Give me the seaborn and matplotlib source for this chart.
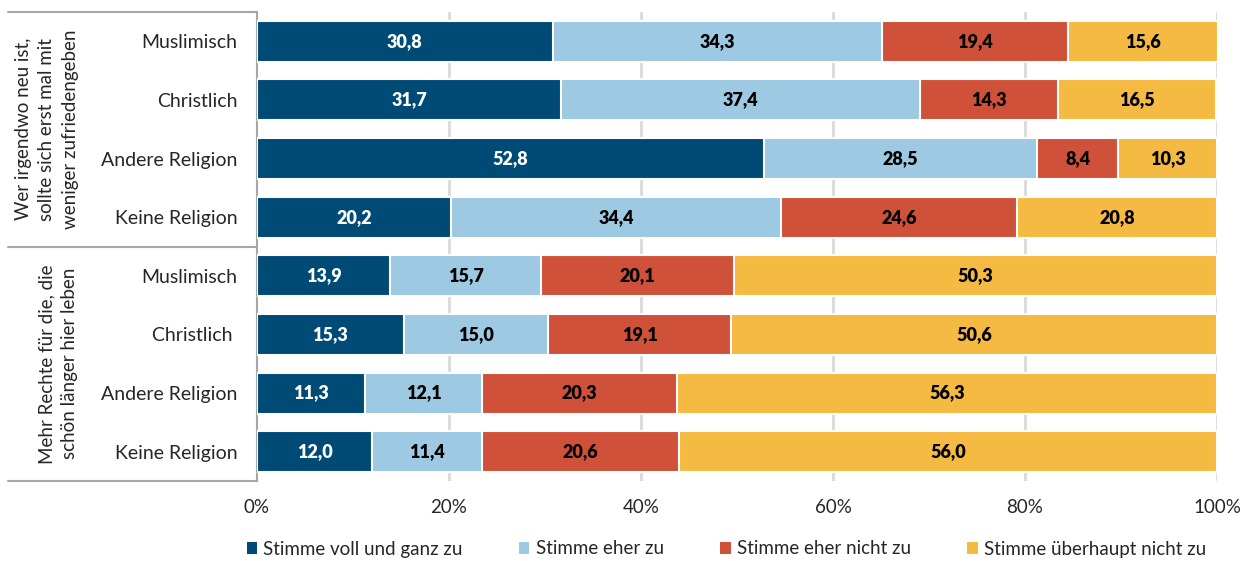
import matplotlib
matplotlib.use("Agg")
import matplotlib.pyplot as plt
from matplotlib.patches import Patch
import seaborn as sns
import pandas as pd
import numpy as np

categories = ["Muslimisch", "Christlich", "Andere Religion", "Keine Religion",
              "Muslimisch", "Christlich ", "Andere Religion", "Keine Religion"]
groups = ["Wer irgendwo neu ist,\nsollte sich erst mal mit\nweniger zufriedengeben",
          "Mehr Rechte für die, die\nschön länger hier leben"]
series_names = ["Stimme voll und ganz zu", "Stimme eher zu",
                "Stimme eher nicht zu", "Stimme überhaupt nicht zu"]
voll = [30.8, 31.7, 52.8, 20.2, 13.9, 15.3, 11.3, 12.0]
eher = [34.3, 37.4, 28.5, 34.4, 15.7, 15.0, 12.1, 11.4]
eher_nicht = [19.4, 14.3, 8.4, 24.6, 20.1, 19.1, 20.3, 20.6]
ueberhaupt = [15.6, 16.5, 10.3, 20.8, 50.3, 50.6, 56.3, 56.0]
xticks = [0, 20, 40, 60, 80, 100]
xticklabels = ["0%", "20%", "40%", "60%", "80%", "100%"]

colors = ["#004B76", "#9DC9E2", "#D0513A", "#F5BA42"]
text_colors = ["white", "black", "black", "black"]

sns.set_theme(style="white")
plt.rcParams["font.family"] = ["Lato", "DejaVu Sans"]

series = [voll, eher, eher_nicht, ueberhaupt]
row_ids = [f"r{i}" for i in range(len(categories))]
cum = np.cumsum(np.array(series), axis=0)

fig = plt.figure(figsize=(12.59, 5.61), dpi=100)
ax = fig.add_axes([257/1259, 1 - 481/561, 960/1259, 469/561])

for k in range(3, -1, -1):
    df = pd.DataFrame({"row": row_ids, "val": cum[k]})
    sns.barplot(data=df, x="val", y="row", order=row_ids, orient="h",
                color=colors[k], saturation=1, width=0.7,
                edgecolor="white", linewidth=1.5, ax=ax, zorder=3)

for k in range(4):
    starts = cum[k] - np.array(series[k])
    for i, v in enumerate(series[k]):
        ax.text(starts[i] + v / 2, i, f"{v:.1f}".replace(".", ","),
                ha="center", va="center", fontsize=13, fontweight="heavy",
                color=text_colors[k], zorder=5)

ax.set_xlim(0, 100)
ax.set_ylim(7.5, -0.5)
ax.set_xticks(xticks)
ax.set_xticklabels(xticklabels, fontsize=13.5)
ax.set_yticks(range(len(categories)))
ax.set_yticklabels(categories, fontsize=14)
ax.set_xlabel("")
ax.set_ylabel("")
ax.tick_params(axis="x", length=0, pad=13)
ax.tick_params(axis="y", length=0, pad=14)
for x in xticks[1:]:
    ax.axvline(x, color="#D9D9D9", lw=2, zorder=1)
for s in ["top", "right", "bottom"]:
    ax.spines[s].set_visible(False)
ax.spines["left"].set_color("#A6A6A6")
ax.spines["left"].set_linewidth(1.5)

# group box lines
tr = ax.get_yaxis_transform()
for y in [-0.5, 3.5, 7.5]:
    ax.plot([-0.259, 0], [y, y], color="#A6A6A6", lw=1.5, transform=tr,
            clip_on=False)
ax.text(-0.219, 1.5, groups[0], rotation=90, ha="center", va="center",
        fontsize=13.5, transform=tr, linespacing=1.45)
ax.text(-0.207, 5.5, groups[1], rotation=90, ha="center", va="center",
        fontsize=13.5, transform=tr, linespacing=1.45)

handles = [Patch(facecolor=c, edgecolor="none") for c in colors]
fig.legend(handles, series_names, loc="center", bbox_to_anchor=(0.577, 1 - 549/561),
           ncol=4, frameon=False, fontsize=13.5, handlelength=0.55, handleheight=0.55,
           handletextpad=0.35, columnspacing=3.0)

fig.savefig("out.png", dpi=100)
